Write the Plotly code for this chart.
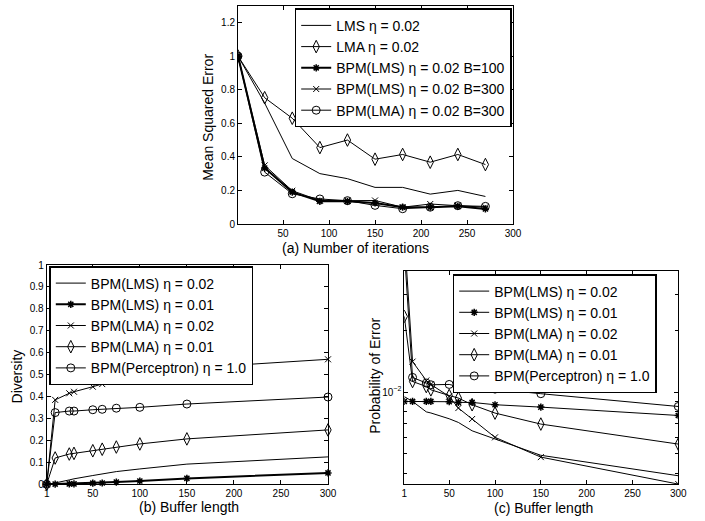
import plotly.graph_objects as go

# (a) mean squared error against number of iterations
iters = [1, 30, 60, 90, 120, 150, 180, 210, 240, 270]
mse_lms = [1.0, 0.72, 0.39, 0.30, 0.27, 0.218, 0.218, 0.178, 0.20, 0.164]
mse_lma = [1.0, 0.752, 0.63, 0.455, 0.50, 0.386, 0.414, 0.368, 0.414, 0.354]
mse_bpm_lms_b100 = [1.0, 0.333, 0.19, 0.135, 0.135, 0.125, 0.10, 0.10, 0.105, 0.09]
mse_bpm_lms_b300 = [1.0, 0.349, 0.198, 0.14, 0.139, 0.14, 0.10, 0.119, 0.109, 0.10]
mse_bpm_lma_b300 = [1.0, 0.309, 0.18, 0.149, 0.139, 0.111, 0.091, 0.10, 0.109, 0.105]

# (b) diversity and (c) probability of error against buffer length
buffer_len = [1, 10, 25, 30, 50, 60, 75, 100, 150, 300]
div_lms_02 = [0, 0.006, 0.02, 0.025, 0.04, 0.047, 0.058, 0.07, 0.092, 0.125]
div_lms_01 = [0, 0.001, 0.002, 0.002, 0.005, 0.006, 0.01, 0.015, 0.027, 0.052]
div_lma_02 = [0, 0.385, 0.415, 0.422, 0.445, 0.457, 0.476, 0.498, 0.529, 0.57]
div_lma_01 = [0, 0.12, 0.138, 0.141, 0.153, 0.16, 0.17, 0.184, 0.207, 0.248]
div_perc = [0, 0.327, 0.334, 0.334, 0.34, 0.342, 0.347, 0.351, 0.366, 0.398]

err_lms_02 = [0.0095, 0.0090, 0.0080, 0.0079, 0.0074, 0.0071, 0.00646, 0.0059, 0.0049, 0.00389]
err_lms_01 = [0.009, 0.009, 0.009, 0.009, 0.00897, 0.0089, 0.0089, 0.00867, 0.00844, 0.00768]
err_lma_02 = [0.06, 0.0141, 0.0114, 0.0109, 0.00952, 0.00835, 0.00738, 0.0060, 0.0048, 0.00354]
err_lma_01 = [0.0235, 0.01127, 0.01065, 0.01026, 0.00962, 0.00935, 0.00867, 0.00789, 0.00697, 0.00556]
err_perc = [0.05, 0.0118, 0.01107, 0.01086, 0.0109, 0.01065, 0.0105, 0.01034, 0.00982, 0.0085]

FONT = "Liberation Sans, Arial, sans-serif"
W, H = 705, 521

fig = go.Figure()


def add(x, y, name, axis, legend, symbol=None, width=1, size=7, lw=1, clip=True):
    mode = "lines+markers" if symbol else "lines"
    marker = None
    if symbol:
        marker = dict(symbol=symbol, size=size, color="black",
                      line=dict(color="black", width=lw))
    fig.add_trace(go.Scatter(
        x=x, y=y, name=name, mode=mode, xaxis="x" + axis, yaxis="y" + axis,
        legend=legend, line=dict(color="black", width=width), marker=marker,
        cliponaxis=clip,
    ))


# (a)
add(iters, mse_lms, "LMS η = 0.02", "", "legend")
add(iters, mse_lma, "LMA η = 0.02", "", "legend", "diamond-tall-open", size=9)
add(iters, mse_bpm_lms_b100, "BPM(LMS) η = 0.02 B=100", "", "legend",
    "asterisk-open", width=2, size=6, lw=1.5)
add(iters, mse_bpm_lms_b300, "BPM(LMS) η = 0.02 B=300", "", "legend",
    "x-thin-open", size=6)
add(iters, mse_bpm_lma_b300, "BPM(LMA) η = 0.02 B=300", "", "legend",
    "circle-open", size=8)

# (b)
add(buffer_len, div_lms_02, "BPM(LMS) η = 0.02", "2", "legend2", clip=False)
add(buffer_len, div_lms_01, "BPM(LMS) η = 0.01", "2", "legend2",
    "asterisk-open", width=2, size=6, lw=1.5, clip=False)
add(buffer_len, div_lma_02, "BPM(LMA) η = 0.02", "2", "legend2",
    "x-thin-open", size=6, clip=False)
add(buffer_len, div_lma_01, "BPM(LMA) η = 0.01", "2", "legend2",
    "diamond-tall-open", size=9, clip=False)
add(buffer_len, div_perc, "BPM(Perceptron) η = 1.0", "2", "legend2",
    "circle-open", size=8, clip=False)

# (c)
add(buffer_len, err_lms_02, "BPM(LMS) η = 0.02", "3", "legend3")
add(buffer_len, err_lms_01, "BPM(LMS) η = 0.01", "3", "legend3",
    "asterisk-open", size=6, lw=1.5)
add(buffer_len, err_lma_02, "BPM(LMA) η = 0.02", "3", "legend3",
    "x-thin-open", size=6)
add(buffer_len, err_lma_01, "BPM(LMA) η = 0.01", "3", "legend3",
    "diamond-tall-open", size=9)
add(buffer_len, err_perc, "BPM(Perceptron) η = 1.0", "3", "legend3",
    "circle-open", size=8)

axis_style = dict(
    showline=True, linecolor="black", linewidth=1, mirror="ticks",
    ticks="inside", ticklen=4, tickcolor="black", showgrid=False,
    zeroline=False, automargin=False,
    tickfont=dict(family=FONT, size=10, color="black"),
)


def dom(a, b, size):
    return [a / size, b / size]


fig.update_layout(
    xaxis=dict(axis_style, domain=dom(238, 513, W), range=[1, 300],
               tickvals=[50, 100, 150, 200, 250, 300], anchor="y"),
    yaxis=dict(axis_style, domain=[1 - 224 / H, 1 - 5.7 / H], range=[0, 1.3],
               tickvals=[0, 0.2, 0.4, 0.6, 0.8, 1, 1.2],
               ticktext=["0", "0.2", "0.4", "0.6", "0.8", "1", "1.2"], anchor="x"),
    xaxis2=dict(axis_style, domain=dom(46.7, 328, W), range=[1, 300],
                tickvals=[1, 50, 100, 150, 200, 250, 300], anchor="y2"),
    yaxis2=dict(axis_style, domain=[1 - 484.3 / H, 1 - 265 / H], range=[0, 1],
                tickvals=[0, 0.1, 0.2, 0.3, 0.4, 0.5, 0.6, 0.7, 0.8, 0.9, 1],
                ticktext=["0", "0.1", "0.2", "0.3", "0.4", "0.5", "0.6", "0.7",
                          "0.8", "0.9", "1"], anchor="x2"),
    xaxis3=dict(axis_style, domain=dom(404.3, 678.3, W), range=[1, 300],
                tickvals=[1, 50, 100, 150, 200, 250, 300], anchor="y3"),
    yaxis3=dict(axis_style, domain=[1 - 484.3 / H, 1 - 270.7 / H], type="log",
                range=[-2.452, -1.405], tickvals=[0.01],
                ticktext=["10<sup>−2</sup>"], anchor="x3",
                minor=dict(ticks="inside", ticklen=3, tickcolor="black",
                           tickvals=[0.004, 0.005, 0.006, 0.007, 0.008, 0.009,
                                     0.02, 0.03])),
)

leg_style = dict(
    bgcolor="white", bordercolor="black", borderwidth=1.5,
    font=dict(family=FONT, size=14, color="black"), itemwidth=30,
    tracegroupgap=0,
)
fig.update_layout(
    legend=dict(leg_style, x=511.7 / W, y=1 - 8.3 / H, xanchor="right", yanchor="top"),
    legend2=dict(leg_style, x=49.3 / W, y=1 - 266 / H, xanchor="left", yanchor="top"),
    legend3=dict(leg_style, x=656.7 / W, y=1 - 274 / H, xanchor="right", yanchor="top"),
)

# axis titles placed as in the original figure
titles = [
    ("(a) Number of iterations", 355.6, 248, 0),
    ("(b) Buffer length", 188.5, 507, 0),
    ("(c) Buffer length", 543, 508, 0),
    ("Mean Squared Error", 208.3, 117.5, -90),
    ("Diversity", 16.7, 376.7, -90),
    ("Probability of Error", 375, 375.8, -90),
]
for text, px, py, angle in titles:
    fig.add_annotation(
        text=text, x=px / W, y=1 - py / H, xref="paper", yref="paper",
        showarrow=False, textangle=angle, xanchor="center", yanchor="middle",
        font=dict(family=FONT, size=14, color="black"),
    )

fig.update_layout(
    width=W, height=H, margin=dict(l=0, r=0, t=0, b=0, autoexpand=False),
    paper_bgcolor="white", plot_bgcolor="white", showlegend=True,
)

# the page body has a default 8px margin; drop it so the figure fills the window
fig.write_html(
    "out.html",
    config={"displayModeBar": False},
    post_script="document.body.style.margin = '0px';",
)
